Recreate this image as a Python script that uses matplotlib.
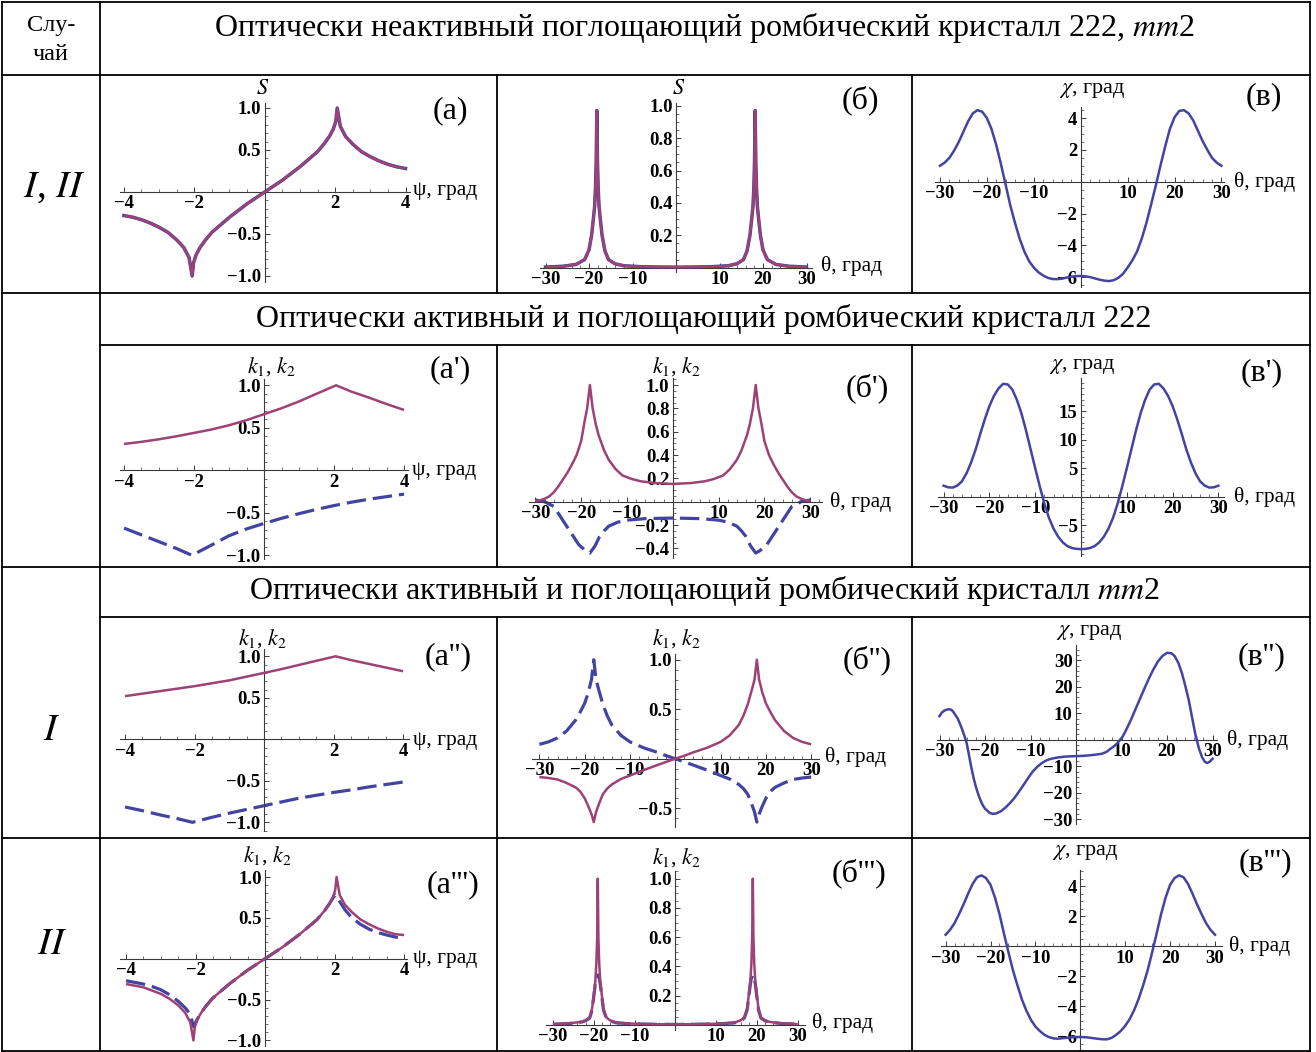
import matplotlib
matplotlib.use("Agg")
import matplotlib.pyplot as plt
from matplotlib.lines import Line2D
from matplotlib.ticker import MultipleLocator

plt.rcParams['font.family'] = ['Liberation Serif', 'DejaVu Serif']
plt.rcParams['mathtext.fontset'] = 'stix'
plt.rcParams['lines.scale_dashes'] = False

W, H = 1316, 1052
PURPLE = '#9e4176'
BLUE = '#4343a2'
AXC = '#3a3a3a'

# ---------------- data ----------------
# (a) S vs psi
psi_a = [-4.0, -3.75, -3.5, -3.25, -3.0, -2.75, -2.5, -2.3, -2.15, -2.06, -2.02, -1.95, -1.85,
         -1.7, -1.5, -1.25, -1.0, -0.75, -0.5, -0.25, 0.0, 0.25, 0.5, 0.75, 1.0, 1.25, 1.5,
         1.7, 1.85, 1.95, 2.02, 2.06, 2.15, 2.3, 2.5, 2.75, 3.0, 3.25, 3.5, 3.75, 4.0]
s_a = [-0.28, -0.30, -0.33, -0.37, -0.42, -0.48, -0.57, -0.66, -0.78, -1.0, -0.84, -0.75, -0.67,
       -0.58, -0.48, -0.39, -0.30, -0.22, -0.14, -0.07, 0.0, 0.07, 0.14, 0.22, 0.30, 0.39, 0.48,
       0.58, 0.67, 0.75, 0.84, 1.0, 0.78, 0.66, 0.57, 0.48, 0.42, 0.37, 0.33, 0.30, 0.28]

# (б) S vs theta
theta_b = [-30, -26, -23, -21, -20, -19.4, -19.0, -18.7, -18.5, -18.35, -18.2, -18.05, -17.9,
           -17.7, -17.4, -17.0, -16.3, -15.5, -14, -12, -8, -4, 0, 4, 8, 12, 14, 15.5, 16.3,
           17.0, 17.4, 17.7, 17.9, 18.05, 18.2, 18.35, 18.5, 18.7, 19.0, 19.4, 20, 21, 23, 26, 30]
s_b = [0.004, 0.009, 0.02, 0.05, 0.11, 0.2, 0.3, 0.38, 0.5, 0.65, 0.97, 0.65, 0.5,
       0.38, 0.3, 0.2, 0.1, 0.05, 0.024, 0.012, 0.006, 0.004, 0.003, 0.004, 0.006, 0.012, 0.024, 0.05, 0.1,
       0.2, 0.3, 0.38, 0.5, 0.65, 0.97, 0.65, 0.5, 0.38, 0.3, 0.2, 0.11, 0.05, 0.02, 0.009, 0.004]

# (в) chi vs theta
theta_c = list(range(-30, 31))
chi_c = [1.0, 1.2, 1.5, 1.95, 2.5, 3.15, 3.8, 4.3, 4.5, 4.4, 4.0, 3.3, 2.3, 1.1, -0.2, -1.5,
         -2.6, -3.6, -4.4, -5.0, -5.4, -5.7, -5.9, -6.05, -6.12, -6.13, -6.1, -6.03, -5.97, -5.94,
         -5.93,
         -5.95, -6.0, -6.08, -6.16, -6.22, -6.25, -6.2, -6.05, -5.8, -5.4, -4.95, -4.4, -3.6, -2.6,
         -1.45, -0.25, 1.0, 2.2, 3.3, 4.05, 4.45, 4.5, 4.3, 3.85, 3.2, 2.55, 2.0, 1.5, 1.2, 1.0]

# (а') k1, k2 vs psi
psi_a1_k1 = [-4, -3.5, -3, -2.5, -2, -1.5, -1, -0.5, 0, 0.5, 1, 1.5, 2.06, 2.5, 3, 3.5, 4]
k1_a1 = [0.31, 0.335, 0.365, 0.40, 0.44, 0.48, 0.53, 0.59, 0.66, 0.73, 0.81, 0.90, 1.0, 0.925, 0.855, 0.78, 0.71]
psi_a1_k2 = [-4, -3.5, -3, -2.5, -2.06, -1.5, -1, -0.5, 0, 0.5, 1, 1.5, 2, 2.5, 3, 3.5, 4]
k2_a1 = [-0.68, -0.76, -0.84, -0.92, -1.0, -0.88, -0.77, -0.69, -0.625, -0.565, -0.51, -0.46, -0.415, -0.375, -0.34, -0.31, -0.28]

# (б') k1, k2 vs theta
theta_b1 = [-30, -29, -28, -27, -26, -25, -24, -23, -22, -21, -20, -19.3, -18.7, -18.1, -17.5, -16.8,
            -16.2, -15, -14, -12.5, -11, -9, -7, -4, 0, 4, 7, 9, 11, 12.5, 14, 15, 16.2, 16.8, 17.5,
            18.1, 18.7, 19.3, 20, 21, 22, 23, 24, 25, 26, 27, 28, 29, 30]
k1_b1 = [0.005, 0.012, 0.025, 0.045, 0.08, 0.13, 0.19, 0.25, 0.32, 0.40, 0.52, 0.68, 0.80, 1.0, 0.80, 0.66,
         0.57, 0.44, 0.36, 0.28, 0.225, 0.195, 0.175, 0.16, 0.152, 0.16, 0.175, 0.195, 0.225, 0.28, 0.36, 0.44,
         0.57, 0.66, 0.80, 1.0, 0.80, 0.68, 0.52, 0.40, 0.32, 0.25, 0.19, 0.13, 0.08, 0.045, 0.025, 0.012, 0.005]
theta_b1_k2 = [-30, -28, -26, -24, -22, -20.5, -19, -18.1, -17, -16, -15, -14, -12, -10, -6, 0,
               6, 10, 12, 14, 15, 16, 17, 18.1, 19, 20.5, 22, 24, 26, 28, 30]
k2_b1 = [0.015, 0.0, -0.04, -0.16, -0.28, -0.37, -0.42, -0.44, -0.38, -0.30, -0.25, -0.21, -0.175, -0.158, -0.145, -0.14,
         -0.145, -0.158, -0.175, -0.21, -0.25, -0.30, -0.38, -0.44, -0.42, -0.37, -0.28, -0.16, -0.04, 0.0, 0.015]

# (в') chi vs theta
theta_c1 = list(range(-30, 31))
chi_c1 = [1.93, 1.65, 1.6, 1.95, 2.7, 4.1, 6.0, 8.3, 11.0, 13.6, 15.9, 17.7, 19.0, 19.8, 19.7, 18.8,
          17.0, 14.6, 11.6, 8.3, 5.0, 1.8, -1.2, -3.7, -5.6, -7.0, -8.0, -8.65, -9.0, -9.15, -9.2,
          -9.15, -9.0, -8.65, -8.0, -7.0, -5.6, -3.7, -1.2, 1.8, 5.0, 8.3, 11.6, 14.6, 17.0, 18.8,
          19.7, 19.8, 19.0, 17.7, 15.9, 13.6, 11.0, 8.3, 6.0, 4.1, 2.7, 1.95, 1.6, 1.65, 1.93]

# (а'') k1, k2 vs psi
psi_a2_k1 = [-4, -3.5, -3, -2.5, -2, -1.5, -1, -0.5, 0, 0.5, 1, 1.5, 2.06, 2.5, 3, 3.5, 4]
k1_a2 = [0.52, 0.55, 0.58, 0.61, 0.64, 0.675, 0.71, 0.755, 0.80, 0.845, 0.895, 0.945, 1.0, 0.955, 0.91, 0.865, 0.82]
psi_a2_k2 = [-4, -3.5, -3, -2.5, -2.06, -1.5, -1, -0.5, 0, 0.5, 1, 1.5, 2, 2.5, 3, 3.5, 4]
k2_a2 = [-0.815, -0.86, -0.91, -0.955, -1.0, -0.94, -0.89, -0.845, -0.80, -0.755, -0.71, -0.675, -0.64, -0.61, -0.575, -0.545, -0.515]

# (б'') k1, k2 vs theta
theta_b2 = [-30, -28, -26, -24, -22, -21, -20, -19.2, -18.5, -18, -17.5, -16.8, -16, -15, -14, -12,
            -10, -7, -4, -2, 0, 2, 4, 7, 10, 12, 14, 15, 16, 16.8, 17.5, 18, 18.5, 19.2, 20, 21, 22,
            24, 26, 28, 30]
k1_b2 = [-0.185, -0.195, -0.21, -0.245, -0.29, -0.33, -0.40, -0.48, -0.56, -0.64, -0.54, -0.45, -0.36, -0.30, -0.26, -0.205,
         -0.17, -0.115, -0.065, -0.032, 0.0, 0.03, 0.065, 0.11, 0.17, 0.235, 0.34, 0.43, 0.55, 0.68, 0.80, 1.0, 0.80, 0.67, 0.56, 0.47, 0.39,
         0.28, 0.21, 0.17, 0.145]
k2_b2 = [0.145, 0.17, 0.21, 0.28, 0.39, 0.47, 0.56, 0.67, 0.80, 1.0, 0.80, 0.68, 0.55, 0.43, 0.34, 0.235,
         0.17, 0.11, 0.065, 0.03, 0.0, -0.032, -0.065, -0.115, -0.17, -0.205, -0.26, -0.30, -0.36, -0.45, -0.54, -0.64, -0.56, -0.48, -0.40, -0.33, -0.29,
         -0.245, -0.21, -0.195, -0.185]

# (в'') chi vs theta
theta_c2 = [-30, -29.5, -29, -28.5, -28, -27.4, -27, -26.5, -26, -25.5, -25, -24.5, -24, -23.5, -23,
            -22.5, -22, -21.5, -21, -20.5, -20, -19, -18.3, -17.5, -16.5, -15.5, -14.5, -13.5, -12.5,
            -11.5, -10.5, -9.5, -8.5, -7.5, -6.5, -5.5, -4, -2.5, -1, 0, 1.5, 3, 4.5, 5.7, 6.7, 7.6,
            8.4, 9.1, 9.7, 10.2, 11, 12, 13, 14, 15, 16, 17, 18, 19, 20, 21, 21.7, 22.5, 23.3, 24,
            24.8, 25.5, 26.2, 27, 27.7, 28.3, 28.8, 29.4, 30]
chi_c2 = [8.9, 10.2, 10.9, 11.3, 11.5, 11.3, 10.6, 9.3, 8.0, 6.0, 3.8, 1.3, -1.5, -6.0, -10.5,
          -14.5, -17.8, -20.5, -22.8, -24.7, -26.0, -27.6, -28.0, -27.8, -27.0, -25.6, -23.9, -21.9, -19.5,
          -17.0, -14.4, -12.0, -10.2, -8.8, -7.8, -7.2, -6.7, -6.4, -6.25, -6.2, -6.1, -5.9, -5.6, -5.3, -4.6, -3.4,
          -2.4, -1.3, 0.0, 1.0, 3.6, 7.2, 11.2, 15.2, 19.2, 23.0, 26.5, 29.5, 31.6, 32.8, 32.6, 31.5, 29.0, 25.0, 20.5,
          14.8, 8.5, 2.3, -3.2, -6.6, -8.3, -8.8, -8.3, -7.2]

# (а''') k1, k2 vs psi
psi_a3 = psi_a
k1_a3 = [-0.31, -0.33, -0.35, -0.39, -0.43, -0.49, -0.57, -0.66, -0.78, -1.0, -0.84, -0.75, -0.67,
         -0.58, -0.48, -0.39, -0.30, -0.22, -0.14, -0.07, 0.0, 0.07, 0.14, 0.22, 0.30, 0.39, 0.48,
         0.58, 0.67, 0.75, 0.84, 1.0, 0.78, 0.66, 0.57, 0.48, 0.42, 0.37, 0.33, 0.30, 0.29]
psi_a3_k2 = [-4.0, -3.75, -3.5, -3.25, -3.0, -2.75, -2.5, -2.3, -2.15, -2.06, -2.02, -1.95, -1.85,
             -1.7, -1.5, -1.25, -1.0, -0.75, -0.5, -0.25, 0.0, 0.25, 0.5, 0.75, 1.0, 1.25, 1.5,
             1.7, 1.85, 1.95, 2.02, 2.08, 2.15, 2.3, 2.5, 2.75, 3.0, 3.25, 3.5, 3.75, 4.0]
k2_a3 = [-0.27, -0.29, -0.31, -0.34, -0.38, -0.44, -0.52, -0.60, -0.68, -0.83, -0.80, -0.74, -0.67,
         -0.58, -0.48, -0.39, -0.30, -0.22, -0.14, -0.07, 0.0, 0.07, 0.14, 0.22, 0.30, 0.39, 0.48,
         0.58, 0.67, 0.74, 0.78, 0.76, 0.70, 0.60, 0.50, 0.42, 0.36, 0.32, 0.29, 0.265, 0.245]

# (б''') k1, k2 vs theta
theta_b3 = [-30, -26, -23, -22, -21, -20.4, -20.0, -19.6, -19.35, -19.15, -19.0, -18.85, -18.65,
            -18.4, -18.0, -17.6, -16.9, -16.0, -14.5, -12, -8, -4, 0, 4, 8, 12, 14.5, 16.0, 16.9,
            17.6, 18.0, 18.4, 18.65, 18.85, 19.0, 19.15, 19.35, 19.6, 20.0, 20.4, 21, 22, 23, 26, 30]
k1_b3 = [0.004, 0.009, 0.02, 0.03, 0.05, 0.11, 0.2, 0.3, 0.42, 0.6, 1.0, 0.6, 0.42,
         0.3, 0.2, 0.11, 0.05, 0.03, 0.015, 0.009, 0.005, 0.003, 0.003, 0.003, 0.005, 0.009, 0.015, 0.03, 0.05,
         0.11, 0.2, 0.3, 0.42, 0.6, 1.0, 0.6, 0.42, 0.3, 0.2, 0.11, 0.05, 0.03, 0.02, 0.009, 0.004]
k2_b3 = [0.003, 0.008, 0.018, 0.027, 0.045, 0.1, 0.19, 0.28, 0.32, 0.33, 0.34, 0.33, 0.32,
         0.28, 0.19, 0.1, 0.045, 0.027, 0.013, 0.008, 0.004, 0.002, 0.002, 0.002, 0.004, 0.008, 0.013, 0.027, 0.045,
         0.1, 0.19, 0.28, 0.32, 0.33, 0.34, 0.33, 0.32, 0.28, 0.19, 0.1, 0.045, 0.027, 0.018, 0.008, 0.003]

# (в''') chi vs theta
theta_c3 = list(range(-30, 31))
chi_c3 = [0.77, 1.1, 1.55, 2.15, 2.8, 3.5, 4.15, 4.6, 4.73, 4.55, 4.1, 3.25, 2.15, 0.85, -0.4, -1.6,
          -2.6, -3.55, -4.3, -4.9, -5.35, -5.65, -5.9, -6.05, -6.14, -6.16, -6.13, -6.1, -6.07, -6.05,
          -6.05,
          -6.06, -6.09, -6.13, -6.17, -6.2, -6.2, -6.1, -5.9, -5.65, -5.3, -4.85, -4.25, -3.5, -2.6,
          -1.6, -0.4, 0.85, 2.15, 3.25, 4.1, 4.55, 4.73, 4.6, 4.15, 3.5, 2.8, 2.15, 1.55, 1.1, 0.77]

header_main = "Оптически неактивный поглощающий ромбический кристалл 222, $mm$2"
header_222 = "Оптически активный и поглощающий ромбический кристалл 222"
header_mm2 = "Оптически активный и поглощающий ромбический кристалл $mm$2"

# ---------------- figure ----------------
fig = plt.figure(figsize=(W / 100, H / 100), dpi=100)
fig.patch.set_facecolor('white')


def hline(y, x0, x1):
    fig.add_artist(Line2D([x0 / W, x1 / W], [1 - y / H, 1 - y / H], color='black', lw=1.3,
                          transform=fig.transFigure))


def vline(x, y0, y1):
    fig.add_artist(Line2D([x / W, x / W], [1 - y0 / H, 1 - y1 / H], color='black', lw=1.3,
                          transform=fig.transFigure))


def ftext(x, y, s, ha='center', **kw):
    fig.text(x / W, 1 - y / H, s, ha=ha, va='center', **kw)


# table grid
for y in (1.5, 75, 293, 567, 838, 1050.5):
    hline(y, 1.5, 1310)
for y in (345, 617):
    hline(y, 100, 1310)
vline(1.5, 1.5, 1050.5)
vline(100, 1.5, 1050.5)
vline(1310, 1.5, 1050.5)
for (y0, y1) in ((75, 293), (345, 567), (617, 838), (838, 1050.5)):
    vline(497, y0, y1)
    vline(912, y0, y1)

ftext(51, 25, "Слу-", fontsize=17.5)
ftext(51, 55, "чай", fontsize=17.5)
ftext(704, 28, header_main, fontsize=23)
ftext(704, 319, header_222, fontsize=23)
ftext(704, 591, header_mm2, fontsize=23)
ftext(54, 187, "$I$, $II$", fontsize=28)
ftext(52, 730, "$I$", fontsize=28)
ftext(52, 945, "$II$", fontsize=28)


def panel(ox, oy, sx, sy, xlim, ylim, xticks, yticks, xminor, yminor,
          xlab, xlab_pos, ylab, ylab_pos, tag, tag_pos):
    left = ox + sx * xlim[0]
    right = ox + sx * xlim[1]
    top = oy - sy * ylim[1]
    bottom = oy - sy * ylim[0]
    ax = fig.add_axes([left / W, 1 - bottom / H, (right - left) / W, (bottom - top) / H])
    ax.set_xlim(xlim)
    ax.set_ylim(ylim)
    ax.patch.set_visible(False)
    for s in ('top', 'right'):
        ax.spines[s].set_visible(False)
    ax.spines['left'].set_position(('data', 0))
    ax.spines['bottom'].set_position(('data', 0))
    for s in ('left', 'bottom'):
        ax.spines[s].set_color(AXC)
        ax.spines[s].set_linewidth(0.8)
    ax.set_xticks(xticks)
    ax.set_yticks(yticks)
    ax.xaxis.set_minor_locator(MultipleLocator(xminor))
    ax.yaxis.set_minor_locator(MultipleLocator(yminor))
    ax.tick_params(which='major', direction='in', length=3.5, width=0.7, color=AXC,
                   labelsize=13.5, pad=2.5)
    ax.tick_params(which='minor', direction='in', length=2, width=0.5, color=AXC)
    for lab in ax.get_xticklabels() + ax.get_yticklabels():
        lab.set_fontweight('bold')
    ftext(xlab_pos[0], xlab_pos[1], xlab, ha='left', fontsize=15.5)
    ftext(ylab_pos[0], ylab_pos[1], ylab, fontsize=16)
    ftext(tag_pos[0], tag_pos[1], tag, fontsize=23)
    return ax


def solid(ax, x, y):
    ax.plot(x, y, color=PURPLE, lw=1.8, solid_capstyle='butt', clip_on=False, zorder=3)


def dashed(ax, x, y):
    ax.plot(x, y, color=BLUE, lw=2.3, dashes=(14, 5), clip_on=False, zorder=2)


def chi(ax, x, y):
    ax.plot(x, y, color=BLUE, lw=1.8, clip_on=False, zorder=3)


psi_ticks = [-4, -2, 2, 4]
th_ticks = [-30, -20, -10, 10, 20, 30]
lab_psi = "ψ, град"
lab_th = "θ, град"
lab_chi = "$\\chi$, град"
lab_k = "$k_1$, $k_2$"

# row 1
ax = panel(264.7, 192, 35.2, 84, (-4.12, 4.12), (-1.07, 1.06), psi_ticks, [-1.0, -0.5, 0.5, 1.0],
           0.5, 0.1, lab_psi, (413, 191), "$S$", (263, 89), "(a)", (450, 111))
ax.plot(psi_a, s_a, color=BLUE, lw=2.5, clip_on=False, zorder=2)
solid(ax, psi_a, s_a)

ax = panel(676, 267.7, 4.35, 162, (-31.3, 31.3), (-0.025, 1.015), th_ticks, [0.2, 0.4, 0.6, 0.8, 1.0],
           2, 0.05, lab_th, (821, 266), "$S$", (679, 89), "(б)", (860, 100))
ax.plot(theta_b, s_b, color=BLUE, lw=2.5, clip_on=False, zorder=2)
solid(ax, theta_b, s_b)

ax = panel(1080.7, 181.7, 4.69, 15.9, (-31.1, 30.6), (-6.6, 4.72), th_ticks, [-6, -4, -2, 2, 4],
           2, 0.5, lab_th, (1234, 182), lab_chi, (1092, 90), "(в)", (1264, 97))
chi(ax, theta_c, chi_c)

# row 2
ax = panel(264, 470.3, 35, 85, (-4.11, 4.12), (-1.04, 1.08), psi_ticks, [-1.0, -0.5, 0.5, 1.0],
           0.5, 0.1, lab_psi, (412, 470), lab_k, (272, 367), "(a')", (450, 370))
dashed(ax, psi_a1_k2, k2_a1)
solid(ax, psi_a1_k1, k1_a1)

ax = panel(672.8, 501.7, 4.58, 116.7, (-31.4, 32.5), (-0.485, 1.057), th_ticks,
           [-0.4, -0.2, 0.2, 0.4, 0.6, 0.8, 1.0], 2, 0.05, lab_th, (830, 502), lab_k, (677, 367),
           "(б')", (867, 388))
dashed(ax, theta_b1_k2, k2_b1)
solid(ax, theta_b1, k1_b1)

ax = panel(1081, 496.7, 4.58, 5.7, (-31.2, 31.2), (-10.35, 20.8), th_ticks, [-5, 5, 10, 15],
           2, 1, lab_th, (1234, 497), lab_chi, (1082, 367), "(в')", (1262, 373))
chi(ax, theta_c1, chi_c1)

# row 3
ax = panel(264, 739.3, 34.75, 83, (-4.14, 4.16), (-1.10, 1.09), psi_ticks, [-1.0, -0.5, 0.5, 1.0],
           0.5, 0.1, lab_psi, (413, 740), lab_k, (263, 639), "(a'')", (448, 657))
dashed(ax, psi_a2_k2, k2_a2)
solid(ax, psi_a2_k1, k1_a2)

ax = panel(675.3, 758.7, 4.53, 99, (-31.6, 31.7), (-0.69, 1.06), th_ticks, [-0.5, 0.5, 1.0],
           2, 0.1, lab_th, (825, 757), lab_k, (677, 639), "(б'')", (867, 660))
dashed(ax, theta_b2, k2_b2)
solid(ax, theta_b2, k1_b2)

ax = panel(1076, 739.7, 4.55, 2.65, (-30.5, 31.0), (-31.7, 35.6), th_ticks,
           [-30, -20, -10, 10, 20, 30], 2, 2, lab_th, (1227, 740), lab_chi, (1089, 632),
           "(в'')", (1262, 657))
chi(ax, theta_c2, chi_c2)

# row 4
ax = panel(265, 958.7, 34.75, 81.7, (-4.17, 4.08), (-1.07, 1.09), psi_ticks, [-1.0, -0.5, 0.5, 1.0],
           0.5, 0.1, lab_psi, (413, 958), lab_k, (268, 856), "(a''')", (453, 885))
dashed(ax, psi_a3_k2, k2_a3)
solid(ax, psi_a3, k1_a3)

ax = panel(675.3, 1024.7, 4.08, 146, (-31.8, 31.8), (-0.034, 1.05), th_ticks,
           [0.2, 0.4, 0.6, 0.8, 1.0], 2, 0.05, lab_th, (812, 1023), lab_k, (677, 858),
           "(б''')", (859, 873))
dashed(ax, theta_b3, k2_b3)
solid(ax, theta_b3, k1_b3)

ax = panel(1080.3, 946.3, 4.49, 15, (-31.1, 31.5), (-7.0, 5.1), th_ticks, [-6, -4, -2, 2, 4],
           2, 0.5, lab_th, (1229, 946), lab_chi, (1085, 853), "(в''')", (1265, 863))
chi(ax, theta_c3, chi_c3)

fig.savefig("out.png", dpi=100, facecolor='white')
